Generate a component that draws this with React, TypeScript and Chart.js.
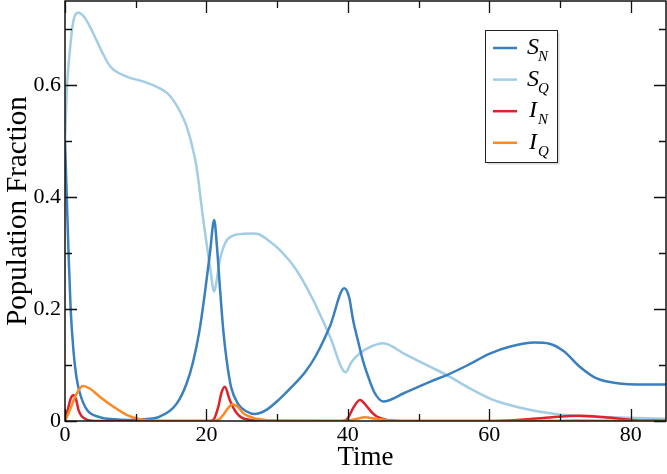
import React, { useEffect, useRef } from 'react';
import { Chart, registerables } from 'chart.js';

Chart.register(...registerables);

// ---- axis ranges and ticks ----
const X_MIN = 0;
const X_MAX = 85;
const Y_MIN = 0;
const Y_MAX = 0.75;
const xMajorTicks = [0, 20, 40, 60, 80];
const xMinorTicks = [10, 30, 50, 70];
const yMajorTicks = [0, 0.2, 0.4, 0.6];
const yMinorTicks = [0.1, 0.3, 0.5, 0.7];

// ---- series: S_N ----
const tSN = [0, 0.25, 0.5, 0.8, 1.2, 1.6, 2.1, 3.1, 4.9, 7, 9, 11, 13.4, 15.8, 17.2, 18.1, 19.0, 19.8, 20.5, 21.1, 21.5, 21.9, 22.4, 22.9, 23.5, 24.5, 25.7, 26.8, 28.5, 30.4, 32, 34, 35.5, 37.5, 39.5, 40.2, 40.75, 41.5, 42.2, 43, 43.8, 45.0, 48, 51.6, 54, 57, 60, 63, 66.4, 68.5, 70.5, 72.8, 75.2, 78.4, 81, 85];
const ySN = [0.5, 0.4, 0.3, 0.2, 0.125, 0.08, 0.05, 0.02, 0.007, 0.003, 0.002, 0.003, 0.008, 0.031, 0.067, 0.105, 0.16, 0.23, 0.3, 0.359, 0.31, 0.24, 0.16, 0.105, 0.06, 0.03, 0.017, 0.0125, 0.02, 0.04, 0.06, 0.088, 0.117, 0.17, 0.237, 0.22, 0.18, 0.14, 0.105, 0.075, 0.05, 0.035, 0.05, 0.07, 0.082, 0.1, 0.12, 0.133, 0.14, 0.138, 0.125, 0.097, 0.076, 0.067, 0.065, 0.065];

// ---- series: S_Q ----
const tSQ = [0, 0.3, 0.7, 1.2, 1.9, 2.8, 4.0, 5.2, 6.4, 8.7, 11.1, 13.4, 14.5, 15.3, 16.3, 17.2, 18.0, 18.6, 19.5, 20.5, 21.1, 21.5, 21.9, 22.4, 22.9, 24.3, 26.6, 27.5, 28.5, 30.4, 32.7, 35.1, 37.5, 39.7, 40.5, 41.7, 43.3, 45.0, 48, 51.6, 54, 57, 60.1, 63, 65.7, 70.4, 77.5, 85];
const ySQ = [0.5, 0.6, 0.663, 0.715, 0.729, 0.72, 0.692, 0.66, 0.633, 0.615, 0.606, 0.594, 0.585, 0.573, 0.552, 0.526, 0.49, 0.454, 0.365, 0.276, 0.231, 0.255, 0.2875, 0.31, 0.323, 0.333, 0.335, 0.333, 0.325, 0.305, 0.27, 0.216, 0.15, 0.087, 0.105, 0.121, 0.133, 0.139, 0.12, 0.097, 0.082, 0.06, 0.04, 0.028, 0.02, 0.011, 0.0066, 0.004];

// ---- series: I_N ----
const tIN = [0, 0.4, 0.8, 1.2, 1.6, 1.9, 2.4, 3.0, 3.5, 5, 20.5, 21.0, 21.7, 22.1, 22.6, 23.3, 23.8, 24.3, 25.0, 25.7, 27, 39.3, 40.0, 40.75, 41.7, 42.9, 43.5, 44.1, 45.5, 48, 60, 64, 68, 72.8, 76, 80, 85];
const yIN = [0, 0.02, 0.04, 0.046, 0.037, 0.02, 0.008, 0.003, 0.001, 0, 0, 0.002, 0.026, 0.049, 0.061, 0.0375, 0.024, 0.014, 0.006, 0.003, 0.0005, 0, 0.005, 0.023, 0.0375, 0.023, 0.014, 0.008, 0.002, 0, 0, 0.002, 0.006, 0.0095, 0.007, 0.002, 0.0005];

// ---- series: I_Q ----
const tIQ = [0, 0.7, 1.5, 2.5, 3.5, 4.95, 6.8, 8.7, 10.6, 13, 21, 21.8, 22.5, 23.0, 23.7, 24.4, 25.2, 26.3, 27.6, 30, 39.5, 41, 42.4, 44, 46, 50, 65, 73, 80, 85];
const yIQ = [0, 0.02, 0.045, 0.0625, 0.058, 0.043, 0.026, 0.011, 0.003, 0, 0, 0.003, 0.013, 0.022, 0.03, 0.026, 0.014, 0.007, 0.003, 0, 0, 0.003, 0.0066, 0.004, 0.001, 0, 0, 0.001, 0, 0];

// ---- legend ----
const legendMain = ['S', 'S', 'I', 'I'];
const legendSub = ['N', 'Q', 'N', 'Q'];
const seriesColors = ['#3a7fbe', '#a3cde4', '#e2202a', '#fb8a24'];

const toPoints = (t: number[], y: number[]) => t.map((v, i) => ({ x: v, y: y[i] }));

const SERIF = '"Liberation Serif", "DejaVu Serif", serif';

const framePlugin = {
  id: 'frameAndLegend',
  afterDatasetsDraw(chart: any) {
    const { ctx, chartArea, scales } = chart;
    const { left, right, top, bottom } = chartArea;
    const xs = scales.x;
    const ys = scales.y;
    ctx.save();
    ctx.strokeStyle = '#111';
    ctx.lineWidth = 1.5;
    ctx.strokeRect(left, top, right - left, bottom - top);
    ctx.lineWidth = 1.3;
    ctx.beginPath();
    const major = 12;
    const minor = 7;
    xMajorTicks.forEach((v) => {
      const p = Math.round(xs.getPixelForValue(v)) + 0.5;
      ctx.moveTo(p, bottom); ctx.lineTo(p, bottom - major);
      ctx.moveTo(p, top); ctx.lineTo(p, top + major);
    });
    xMinorTicks.forEach((v) => {
      const p = Math.round(xs.getPixelForValue(v)) + 0.5;
      ctx.moveTo(p, bottom); ctx.lineTo(p, bottom - minor);
      ctx.moveTo(p, top); ctx.lineTo(p, top + minor);
    });
    yMajorTicks.forEach((v) => {
      const p = Math.round(ys.getPixelForValue(v)) + 0.5;
      ctx.moveTo(left, p); ctx.lineTo(left + major, p);
      ctx.moveTo(right, p); ctx.lineTo(right - major, p);
    });
    yMinorTicks.forEach((v) => {
      const p = Math.round(ys.getPixelForValue(v)) + 0.5;
      ctx.moveTo(left, p); ctx.lineTo(left + minor, p);
      ctx.moveTo(right, p); ctx.lineTo(right - minor, p);
    });
    ctx.stroke();

    // legend box
    const bx = 485.5, by = 30.5, bw = 72, bh = 132;
    ctx.fillStyle = 'rgba(0,0,0,0.15)';
    ctx.fillRect(bx + 2, by + 2, bw, bh);
    ctx.fillStyle = '#fff';
    ctx.fillRect(bx, by, bw, bh);
    ctx.strokeStyle = '#222';
    ctx.lineWidth = 1;
    ctx.strokeRect(bx, by, bw, bh);
    const rowY0 = 48;
    const rowStep = 31.6;
    legendMain.forEach((m, i) => {
      const yy = rowY0 + i * rowStep;
      ctx.strokeStyle = seriesColors[i];
      ctx.lineWidth = 2.5;
      ctx.beginPath();
      ctx.moveTo(493, yy);
      ctx.lineTo(517, yy);
      ctx.stroke();
      ctx.fillStyle = '#000';
      ctx.textBaseline = 'alphabetic';
      ctx.textAlign = 'left';
      ctx.font = `italic 24px ${SERIF}`;
      ctx.fillText(m, m === 'I' ? 529 : 527, yy + 6);
      ctx.font = `italic 15px ${SERIF}`;
      ctx.fillText(legendSub[i], 538, yy + 13);
    });
    ctx.restore();
  },
};

export default function App() {
  const ref = useRef<HTMLCanvasElement>(null);
  useEffect(() => {
    const datasets = [
      { label: 'S_N', data: toPoints(tSN, ySN), borderColor: seriesColors[0], order: 2 },
      { label: 'S_Q', data: toPoints(tSQ, ySQ), borderColor: seriesColors[1], order: 3 },
      { label: 'I_N', data: toPoints(tIN, yIN), borderColor: seriesColors[2], order: 1 },
      { label: 'I_Q', data: toPoints(tIQ, yIQ), borderColor: seriesColors[3], order: 0 },
    ].map((d) => ({
      ...d,
      borderWidth: 2.5,
      pointRadius: 0,
      fill: false,
      cubicInterpolationMode: 'monotone' as const,
    }));
    const chart = new Chart(ref.current!, {
      type: 'line',
      data: { datasets },
      plugins: [framePlugin],
      options: {
        responsive: false,
        animation: false,
        devicePixelRatio: 1,
        layout: { padding: { top: 1, right: 1, left: 0, bottom: 0 } },
        plugins: { legend: { display: false }, tooltip: { enabled: false } },
        scales: {
          x: {
            type: 'linear',
            min: X_MIN,
            max: X_MAX,
            grid: { display: false, drawTicks: false, tickLength: 0 },
            border: { display: false },
            ticks: {
              stepSize: 20,
              includeBounds: false,
              autoSkip: false,
              color: '#000',
              padding: 1,
              maxRotation: 0,
              font: { family: SERIF, size: 22 },
              callback: (v: any) => String(v),
            },
            afterBuildTicks: (s: any) => {
              s.ticks = s.ticks.filter((t: any) => xMajorTicks.includes(Math.round(t.value * 1000) / 1000));
            },
            afterFit: (s: any) => {
              s.height = 53;
              s.paddingLeft = 0;
              s.paddingRight = 0;
            },
            title: {
              display: true,
              text: 'Time',
              color: '#000',
              font: { family: SERIF, size: 27 },
              padding: { top: 0, bottom: 0 },
            },
          },
          y: {
            type: 'linear',
            min: Y_MIN,
            max: Y_MAX,
            grid: { display: false, drawTicks: false, tickLength: 0 },
            border: { display: false },
            ticks: {
              stepSize: 0.2,
              includeBounds: false,
              autoSkip: false,
              color: '#000',
              padding: 4,
              font: { family: SERIF, size: 22 },
              callback: (v: any) => (v === 0 ? '0' : Number(v).toFixed(1)),
            },
            afterBuildTicks: (s: any) => {
              s.ticks = s.ticks.filter((t: any) => yMajorTicks.some((m) => Math.abs(m - t.value) < 1e-6));
            },
            afterFit: (s: any) => {
              s.width = 65;
              s.paddingTop = 0;
              s.paddingBottom = 0;
            },
            title: {
              display: true,
              text: 'Population Fraction',
              color: '#000',
              font: { family: SERIF, size: 29 },
              padding: { top: 1, bottom: 0 },
            },
          },
        },
      },
    });
    return () => chart.destroy();
  }, []);
  return (
    <div style={{ position: 'absolute', left: 0, top: 0, width: 667, height: 474 }}>
      <canvas ref={ref} width={667} height={474} style={{ display: 'block', width: 667, height: 474 }} />
    </div>
  );
}
